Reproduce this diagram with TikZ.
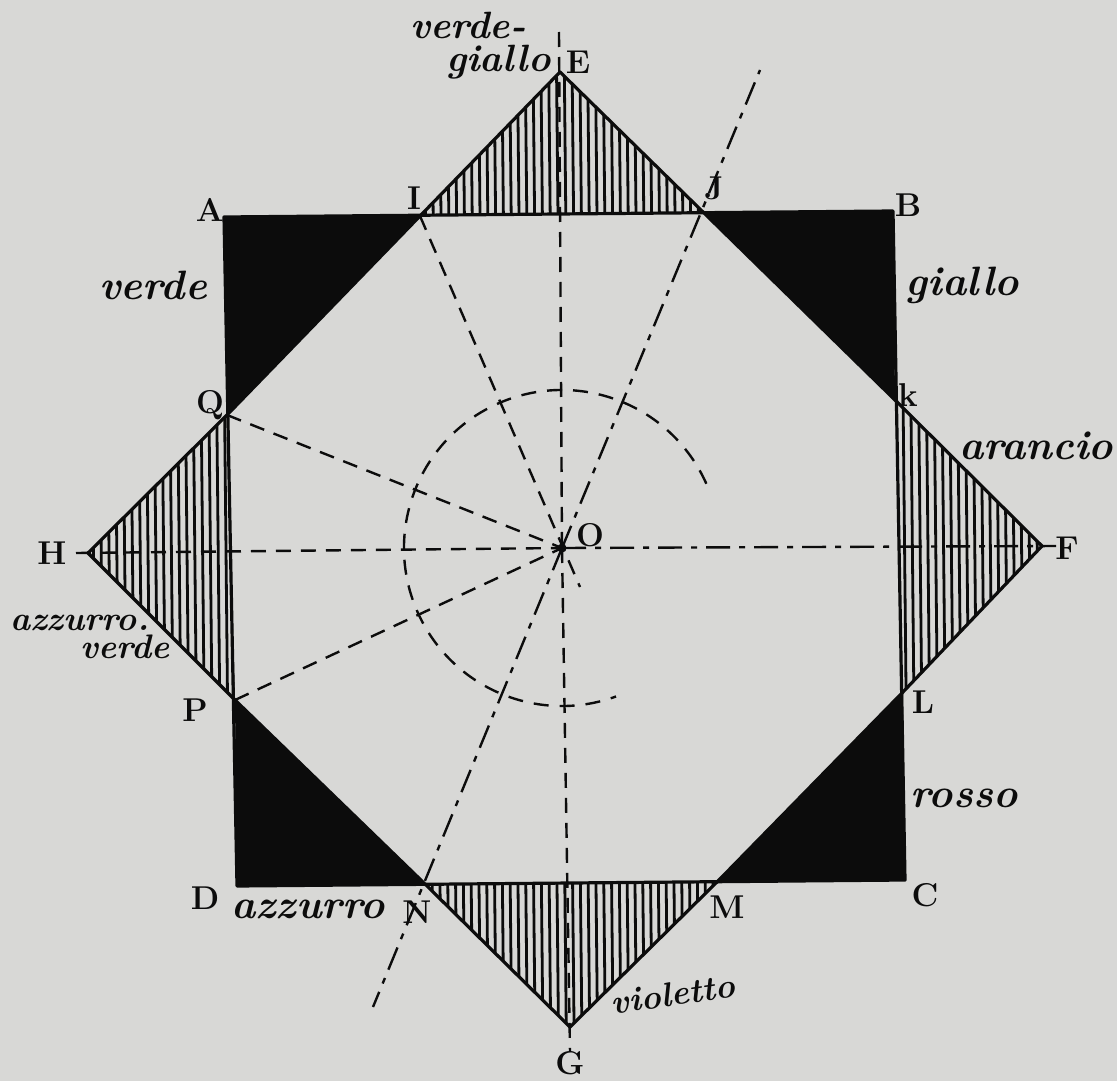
\documentclass[tikz,border=0pt]{standalone}
\usetikzlibrary{positioning}
\definecolor{paper}{HTML}{D8D8D6}
\definecolor{ink}{HTML}{0C0C0C}
\tikzset{
  edgeline/.style={draw=ink, line width=3.2pt, line join=round},
  hatchline/.style={draw=ink, line width=2.8pt},
  guideline/.style={draw=ink, line width=2.4pt, dash pattern=on 15pt off 10pt},
  guidedot/.style={draw=ink, line width=2.4pt, dash pattern=on 24pt off 9pt on 6pt off 9pt},
  colorlabel/.style={text=ink, font=\fontsize{41}{32}\selectfont\bfseries\itshape, inner sep=0pt, align=left},
  smalllabel/.style={colorlabel, font=\fontsize{34}{28}\selectfont\bfseries\itshape},
  pointlabel/.style={text=ink, font=\fontsize{33}{33}\selectfont\bfseries, inner sep=0pt}
}
\begin{document}
\begin{tikzpicture}[x=1pt, y=-1pt]
        \useasboundingbox[fill=paper] (0,0) rectangle (1117,1081);

        % Points of the square and the star
        \coordinate (A) at (224,217);
        \coordinate (B) at (893,211);
        \coordinate (C) at (905,880);
        \coordinate (D) at (237,886);
        \coordinate (E) at (560,72);
        \coordinate (F) at (1042,546);
        \coordinate (G) at (570,1027);
        \coordinate (H) at (88,553);
        \coordinate (I) at (420,216);
        \coordinate (J) at (703,212);
        \coordinate (K) at (895,400);
        \coordinate (L) at (903,692);
        \coordinate (M) at (718,881);
        \coordinate (N) at (425,884);
        \coordinate (P) at (235,700);
        \coordinate (Q) at (227,415);
        \coordinate (O) at (562,548);

        % Free ends of the guide lines
        \coordinate (topend) at (559,32);
        \coordinate (botend) at (570,1052);
        \coordinate (leftend) at (76,553);
        \coordinate (rightend) at (1056,546);
        \coordinate (slantup) at (760,70);
        \coordinate (slantdown) at (373,1007);
        \coordinate (shortend) at (580,587);

        % Black corners
        \fill[ink] (A) -- (I) -- (Q) -- cycle;
        \fill[ink] (J) -- (B) -- (K) -- cycle;
        \fill[ink] (L) -- (C) -- (M) -- cycle;
        \fill[ink] (P) -- (N) -- (D) -- cycle;

        % Hatched points
        \begin{scope}
            \clip (I) -- (E) -- (J) -- cycle
                  (K) -- (F) -- (L) -- cycle
                  (M) -- (G) -- (N) -- cycle
                  (Q) -- (H) -- (P) -- cycle;
            \foreach \x in {80,87.8,...,1050}
                \draw[hatchline] (\x,0) -- (\x+11,1081);
        \end{scope}

        % Outlines
        \draw[edgeline] (A) -- (B) -- (C) -- (D) -- cycle;
        \draw[edgeline] (I) -- (E) -- (J) -- (K) -- (F) -- (L) -- (M) -- (G) -- (N) -- (P) -- (H) -- (Q) -- cycle;

        % Guide lines
        \draw[guideline] (topend) -- (O);
        \draw[guideline] (O) -- (botend);
        \draw[guideline] (leftend) -- (O);
        \draw[guidedot] (O) -- (rightend);
        \draw[guidedot] (O) -- (slantup);
        \draw[guidedot] (O) -- (slantdown);
        \draw[guideline] (I) -- (shortend);
        \draw[guideline] (Q) -- (O);
        \draw[guideline] (P) -- (O);
        \fill[ink] (O) circle (4.5);

        % Arc round O
        \draw[guideline, dash pattern=on 15pt off 11pt] (O) ++(-24:158) arc[start angle=-24, end angle=-290, radius=158];

        % Colour names
        \node[smalllabel, font=\fontsize{38}{33}\selectfont\bfseries\itshape, anchor=north west] (verdegiallo) at (410,12) {verde-\\\hspace*{36pt}giallo};
        \node[colorlabel] (verde) at (153,285) {verde};
        \node[colorlabel] (giallo) at (962,285) {giallo};
        \node[colorlabel] (arancio) at (1036,446) {arancio};
        \node[smalllabel, anchor=north west] (azzurroverde) at (10,615) {azzurro.\\\hspace*{70pt}verde};
        \node[colorlabel] (rosso) at (964,798) {rosso};
        \node[colorlabel] (azzurro) at (308,909) {azzurro};
        \node[smalllabel, rotate=8] (violetto) at (673,994) {violetto};

        % Point names
        \node[pointlabel] (nameE) at (578,62) {E};
        \node[pointlabel] (nameA) at (210,210) {A};
        \node[pointlabel] (nameB) at (908,205) {B};
        \node[pointlabel] (nameI) at (414,198) {I};
        \node[pointlabel] (nameJ) at (714,188) {J};
        \node[pointlabel] (nameQ) at (210,405) {Q};
        \node[pointlabel] (nameK) at (908,395) {k};
        \node[pointlabel] (nameH) at (52,553) {H};
        \node[pointlabel] (nameF) at (1067,548) {F};
        \node[pointlabel] (nameO) at (590,535) {O};
        \node[pointlabel] (nameP) at (195,710) {P};
        \node[pointlabel] (nameL) at (923,702) {L};
        \node[pointlabel] (nameD) at (205,898) {D};
        \node[pointlabel] (nameN) at (417,912) {N};
        \node[pointlabel] (nameM) at (727,907) {M};
        \node[pointlabel] (nameC) at (925,895) {C};
        \node[pointlabel] (nameG) at (570,1063) {G};
\end{tikzpicture}
\end{document}
